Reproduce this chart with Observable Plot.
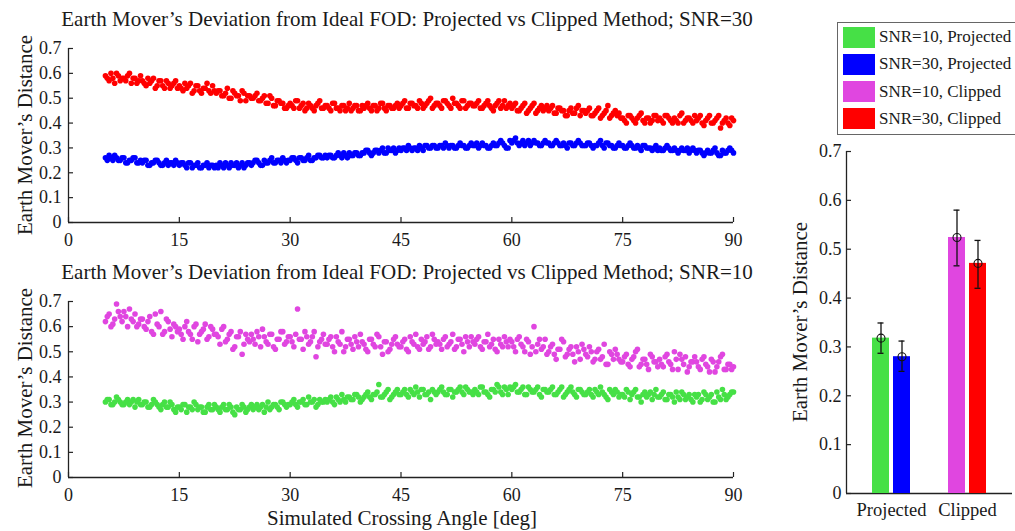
<!DOCTYPE html>
<html><head><meta charset="utf-8">
<script src="https://cdn.jsdelivr.net/npm/d3@7"></script>
<script src="https://cdn.jsdelivr.net/npm/@observablehq/plot@0.6"></script>
<style>
body{margin:0;background:#fff;overflow:hidden;}
#root{position:relative;width:1015px;height:531px;overflow:hidden;font-family:"Liberation Serif",serif;color:#1a1a1a;}
.ttl{position:absolute;white-space:nowrap;font-size:21px;line-height:1;transform:translate(-50%,-50%);}
.ylab{position:absolute;white-space:nowrap;font-size:21px;line-height:1;transform:translate(-50%,-50%) rotate(-90deg);}
#legend{position:absolute;left:837px;top:22px;width:200px;height:111px;border:1.5px solid #666;background:#fff;}
.lrow{position:absolute;left:5px;height:21px;display:flex;align-items:center;font-size:17px;white-space:nowrap;}
.sw{width:32px;height:21px;margin-right:4px;}
</style></head><body><div id="root"></div>
<script>
// ---------- data ----------
const angles  = d3.range(5, 90.25, 0.5);    // sampled crossing angles [deg], set A
const anglesB = d3.range(5.25, 90, 0.5);    // sampled crossing angles [deg], set B

const snr30Clipped = [
0.59,0.57,0.58,0.60,0.57,0.58,0.59,0.56,0.58,0.57,
0.57,0.55,0.56,0.58,0.55,0.57,0.54,0.56,0.55,0.57,
0.55,0.53,0.54,0.56,0.53,0.55,0.52,0.54,0.53,0.55,
0.52,0.53,0.51,0.54,0.50,0.52,0.51,0.53,0.49,0.51,
0.50,0.52,0.49,0.51,0.48,0.50,0.47,0.49,0.48,0.46,
0.48,0.46,0.49,0.47,0.45,0.48,0.46,0.47,0.49,0.46,
0.47,0.45,0.48,0.46,0.47,0.45,0.48,0.46,0.47,0.45,
0.46,0.48,0.45,0.47,0.46,0.48,0.45,0.47,0.46,0.48,
0.47,0.49,0.46,0.48,0.47,0.49,0.46,0.48,0.50,0.47,
0.48,0.46,0.49,0.47,0.50,0.48,0.46,0.49,0.47,0.48,
0.47,0.49,0.46,0.48,0.47,0.45,0.48,0.46,0.49,0.47,
0.46,0.48,0.45,0.47,0.44,0.46,0.48,0.45,0.47,0.46,
0.45,0.47,0.44,0.46,0.45,0.43,0.46,0.44,0.47,0.45,
0.44,0.46,0.43,0.45,0.42,0.44,0.47,0.43,0.45,0.44,
0.42,0.40,0.43,0.41,0.42,0.44,0.40,0.42,0.41,0.43,
0.42,0.40,0.43,0.41,0.42,0.40,0.44,0.41,0.42,0.40,
0.41,0.43,0.39,0.42,0.40,0.41,0.43,0.40,0.42,0.39,
0.41];
const snr30ClippedB = [
0.58,0.60,0.56,0.59,0.58,0.57,0.60,0.58,0.56,0.59,
0.56,0.58,0.57,0.54,0.57,0.55,0.57,0.54,0.56,0.54,
0.54,0.56,0.55,0.52,0.55,0.53,0.54,0.56,0.52,0.53,
0.53,0.51,0.52,0.50,0.53,0.51,0.49,0.52,0.51,0.50,
0.51,0.49,0.50,0.48,0.51,0.47,0.49,0.48,0.46,0.47,
0.47,0.49,0.46,0.48,0.46,0.47,0.45,0.48,0.46,0.47,
0.46,0.48,0.46,0.45,0.47,0.46,0.45,0.47,0.45,0.47,
0.47,0.46,0.47,0.45,0.48,0.46,0.47,0.46,0.47,0.46,
0.48,0.46,0.48,0.47,0.46,0.48,0.47,0.49,0.46,0.48,
0.47,0.49,0.48,0.46,0.48,0.47,0.49,0.46,0.48,0.47,
0.48,0.46,0.47,0.49,0.46,0.47,0.49,0.47,0.46,0.48,
0.47,0.45,0.46,0.48,0.45,0.47,0.44,0.46,0.45,0.47,
0.46,0.44,0.46,0.45,0.43,0.45,0.44,0.46,0.43,0.45,
0.45,0.43,0.44,0.46,0.43,0.45,0.42,0.44,0.43,0.42,
0.41,0.43,0.42,0.40,0.43,0.41,0.42,0.40,0.43,0.41,
0.41,0.43,0.42,0.40,0.41,0.43,0.40,0.42,0.41,0.43,
0.42,0.40,0.41,0.43,0.40,0.42,0.38,0.41,0.40,0.42];

const snr30Projected = [
0.26,0.27,0.25,0.26,0.25,0.26,0.24,0.25,0.26,0.24,
0.24,0.25,0.23,0.24,0.25,0.23,0.24,0.23,0.24,0.25,
0.23,0.24,0.22,0.24,0.23,0.24,0.22,0.23,0.22,0.23,
0.23,0.24,0.22,0.23,0.24,0.23,0.22,0.24,0.23,0.24,
0.24,0.25,0.23,0.25,0.24,0.26,0.24,0.25,0.26,0.24,
0.25,0.26,0.24,0.26,0.25,0.27,0.25,0.26,0.27,0.26,
0.26,0.27,0.26,0.28,0.26,0.27,0.28,0.27,0.28,0.27,
0.28,0.29,0.27,0.29,0.28,0.30,0.28,0.29,0.30,0.29,
0.29,0.30,0.31,0.29,0.30,0.31,0.29,0.31,0.30,0.31,
0.30,0.31,0.32,0.30,0.31,0.30,0.32,0.31,0.30,0.32,
0.31,0.30,0.32,0.31,0.30,0.32,0.31,0.33,0.31,0.30,
0.32,0.34,0.31,0.33,0.32,0.31,0.33,0.32,0.31,0.33,
0.32,0.31,0.33,0.31,0.32,0.30,0.32,0.31,0.33,0.31,
0.31,0.32,0.30,0.31,0.33,0.30,0.32,0.31,0.30,0.32,
0.31,0.30,0.32,0.30,0.31,0.29,0.31,0.30,0.29,0.31,
0.30,0.29,0.31,0.29,0.30,0.28,0.30,0.29,0.28,0.30,
0.28,0.29,0.27,0.29,0.28,0.30,0.27,0.29,0.28,0.30,
0.28];
const snr30ProjectedB = [
0.25,0.26,0.27,0.25,0.26,0.24,0.25,0.26,0.24,0.25,
0.25,0.23,0.24,0.25,0.24,0.23,0.25,0.24,0.23,0.24,
0.24,0.23,0.24,0.22,0.23,0.22,0.23,0.24,0.23,0.22,
0.22,0.23,0.24,0.22,0.23,0.24,0.23,0.22,0.24,0.23,
0.25,0.24,0.23,0.24,0.25,0.24,0.25,0.24,0.25,0.25,
0.26,0.25,0.26,0.25,0.26,0.25,0.26,0.27,0.26,0.27,
0.27,0.26,0.27,0.27,0.28,0.26,0.27,0.28,0.27,0.28,
0.29,0.28,0.28,0.29,0.29,0.28,0.30,0.29,0.28,0.30,
0.30,0.29,0.30,0.30,0.29,0.30,0.31,0.30,0.31,0.30,
0.31,0.30,0.31,0.31,0.30,0.31,0.31,0.30,0.31,0.31,
0.32,0.31,0.31,0.30,0.31,0.31,0.32,0.32,0.30,0.33,
0.33,0.32,0.32,0.31,0.33,0.32,0.32,0.31,0.32,0.32,
0.31,0.32,0.32,0.31,0.31,0.32,0.31,0.32,0.32,0.31,
0.32,0.31,0.31,0.32,0.31,0.32,0.31,0.30,0.31,0.31,
0.30,0.31,0.31,0.30,0.30,0.31,0.30,0.30,0.30,0.29,
0.29,0.30,0.30,0.29,0.29,0.29,0.29,0.30,0.29,0.29,
0.29,0.28,0.28,0.28,0.29,0.28,0.27,0.28,0.29,0.29];

const snr10Clipped = [
0.62,0.65,0.61,0.69,0.64,0.66,0.60,0.63,0.65,0.61,
0.63,0.59,0.64,0.57,0.61,0.66,0.58,0.62,0.56,0.60,
0.59,0.55,0.62,0.57,0.60,0.54,0.58,0.61,0.56,0.59,
0.57,0.53,0.60,0.55,0.58,0.52,0.56,0.49,0.57,0.54,
0.55,0.58,0.52,0.56,0.53,0.57,0.51,0.55,0.58,0.54,
0.56,0.52,0.67,0.55,0.58,0.53,0.56,0.48,0.54,0.57,
0.53,0.56,0.50,0.54,0.58,0.52,0.55,0.51,0.54,0.57,
0.53,0.50,0.55,0.52,0.56,0.49,0.54,0.51,0.55,0.53,
0.52,0.55,0.50,0.54,0.57,0.51,0.53,0.56,0.52,0.55,
0.54,0.51,0.56,0.53,0.57,0.52,0.55,0.50,0.54,0.56,
0.53,0.56,0.51,0.54,0.52,0.55,0.50,0.53,0.56,0.52,
0.54,0.50,0.56,0.52,0.55,0.49,0.60,0.53,0.51,0.55,
0.50,0.53,0.47,0.51,0.54,0.49,0.52,0.46,0.50,0.53,
0.49,0.52,0.46,0.50,0.47,0.53,0.45,0.49,0.51,0.47,
0.46,0.49,0.44,0.48,0.51,0.45,0.47,0.43,0.48,0.46,
0.47,0.44,0.49,0.45,0.50,0.43,0.47,0.48,0.44,0.46,
0.46,0.43,0.48,0.44,0.47,0.42,0.46,0.49,0.43,0.45,
0.44];
const snr10ClippedB = [
0.64,0.60,0.63,0.66,0.62,0.64,0.67,0.62,0.60,0.63,
0.60,0.62,0.58,0.65,0.60,0.57,0.63,0.59,0.61,0.58,
0.57,0.60,0.58,0.55,0.61,0.57,0.59,0.55,0.60,0.57,
0.56,0.59,0.54,0.57,0.51,0.56,0.58,0.53,0.55,0.57,
0.53,0.56,0.59,0.54,0.57,0.52,0.55,0.58,0.53,0.56,
0.54,0.57,0.55,0.51,0.56,0.54,0.58,0.52,0.55,0.53,
0.55,0.52,0.56,0.53,0.50,0.55,0.53,0.56,0.52,0.54,
0.51,0.55,0.53,0.57,0.52,0.54,0.50,0.53,0.56,0.52,
0.54,0.51,0.56,0.53,0.52,0.55,0.54,0.51,0.57,0.53,
0.53,0.55,0.52,0.54,0.51,0.55,0.53,0.56,0.52,0.54,
0.55,0.52,0.54,0.57,0.53,0.51,0.55,0.52,0.54,0.55,
0.52,0.55,0.53,0.50,0.54,0.52,0.50,0.55,0.52,0.49,
0.52,0.49,0.51,0.55,0.48,0.51,0.49,0.52,0.47,0.51,
0.48,0.50,0.47,0.51,0.48,0.45,0.50,0.47,0.49,0.46,
0.48,0.45,0.47,0.50,0.44,0.47,0.45,0.49,0.46,0.44,
0.45,0.48,0.46,0.43,0.47,0.49,0.45,0.42,0.46,0.48,
0.44,0.47,0.45,0.42,0.46,0.44,0.48,0.43,0.45,0.43];

const snr10Projected = [
0.30,0.31,0.29,0.32,0.30,0.29,0.31,0.30,0.28,0.31,
0.29,0.30,0.28,0.31,0.29,0.27,0.30,0.28,0.29,0.26,
0.28,0.29,0.26,0.28,0.30,0.27,0.28,0.26,0.29,0.27,
0.28,0.26,0.29,0.27,0.28,0.25,0.27,0.29,0.26,0.28,
0.27,0.29,0.28,0.26,0.30,0.28,0.29,0.27,0.30,0.28,
0.29,0.31,0.28,0.30,0.29,0.32,0.30,0.28,0.31,0.30,
0.30,0.32,0.29,0.31,0.33,0.30,0.32,0.31,0.33,0.30,
0.32,0.34,0.31,0.33,0.37,0.32,0.34,0.31,0.33,0.35,
0.33,0.35,0.32,0.34,0.36,0.32,0.35,0.33,0.31,0.34,
0.34,0.36,0.33,0.35,0.32,0.34,0.36,0.33,0.35,0.34,
0.35,0.33,0.36,0.34,0.32,0.35,0.37,0.34,0.36,0.33,
0.35,0.37,0.34,0.36,0.33,0.35,0.34,0.36,0.32,0.35,
0.34,0.36,0.33,0.35,0.32,0.34,0.36,0.33,0.35,0.34,
0.33,0.35,0.32,0.34,0.36,0.33,0.31,0.34,0.35,0.32,
0.33,0.35,0.31,0.34,0.32,0.30,0.34,0.33,0.31,0.35,
0.32,0.34,0.31,0.33,0.30,0.32,0.34,0.31,0.33,0.30,
0.32,0.30,0.34,0.31,0.33,0.30,0.32,0.35,0.31,0.33,
0.34];
const snr10ProjectedB = [
0.31,0.29,0.30,0.31,0.29,0.30,0.29,0.31,0.30,0.29,
0.30,0.28,0.29,0.30,0.28,0.29,0.28,0.30,0.27,0.28,
0.27,0.29,0.28,0.27,0.29,0.28,0.26,0.28,0.27,0.29,
0.27,0.28,0.27,0.29,0.26,0.28,0.27,0.28,0.27,0.29,
0.28,0.27,0.29,0.28,0.27,0.29,0.28,0.30,0.29,0.29,
0.30,0.29,0.30,0.31,0.29,0.30,0.31,0.29,0.30,0.31,
0.31,0.30,0.32,0.30,0.31,0.32,0.31,0.33,0.32,0.31,
0.33,0.32,0.33,0.34,0.32,0.33,0.35,0.32,0.34,0.33,
0.34,0.33,0.35,0.33,0.34,0.35,0.33,0.34,0.35,0.33,
0.35,0.34,0.33,0.35,0.34,0.35,0.34,0.36,0.34,0.33,
0.34,0.36,0.34,0.33,0.35,0.34,0.36,0.33,0.35,0.36,
0.36,0.34,0.35,0.33,0.36,0.34,0.35,0.33,0.35,0.34,
0.35,0.33,0.34,0.36,0.33,0.35,0.34,0.32,0.35,0.33,
0.34,0.33,0.35,0.33,0.34,0.32,0.35,0.33,0.34,0.33,
0.32,0.34,0.33,0.35,0.32,0.33,0.32,0.34,0.33,0.32,
0.33,0.31,0.33,0.32,0.34,0.31,0.33,0.32,0.31,0.33,
0.33,0.31,0.33,0.32,0.30,0.34,0.31,0.33,0.32,0.34];

const seriesNames  = ["SNR=10, Projected","SNR=30, Projected","SNR=10, Clipped","SNR=30, Clipped"];
const seriesColors = ["#46e046","#0000ff","#e046e0","#ff0000"];

const barGroups = ["Projected","Projected","Clipped","Clipped"];
const barSnr    = ["SNR=10","SNR=30","SNR=10","SNR=30"];
const barMeans  = [0.318, 0.280, 0.524, 0.471];
const barLow    = [0.287, 0.250, 0.466, 0.420];
const barHigh   = [0.349, 0.312, 0.580, 0.518];

const xTicks = [0,15,30,45,60,75,90];
const yTicks = [0,0.1,0.2,0.3,0.4,0.5,0.6,0.7];
const titleTop = "Earth Mover’s Deviation from Ideal FOD: Projected vs Clipped Method; SNR=30";
const titleBottom = "Earth Mover’s Deviation from Ideal FOD: Projected vs Clipped Method; SNR=10";
const yLabel = "Earth Mover’s Distance";
const xLabel = "Simulated Crossing Angle [deg]";

// ---------- helpers ----------
const root = document.getElementById("root");
const fmtY = d => d === 0 ? "0" : d3.format(".1f")(d);
const FONT = '"Liberation Serif", serif';
const AX = "#222";

function place(node, left, top) {
  node.style.position = "absolute";
  node.style.left = left + "px";
  node.style.top = top + "px";
  root.appendChild(node);
}
function textDiv(cls, txt, x, y) {
  const d = document.createElement("div");
  d.className = cls; d.textContent = txt;
  d.style.left = x + "px"; d.style.top = y + "px";
  root.appendChild(d);
}
function rows(xs, values, name) {
  return xs.map((a, i) => ({angle: a, v: values[i], series: name}));
}

function scatterPlot(data, mt, mb) {
  const W = 760, H = 260, ml = 68, mr = 27;
  const iw = W - ml - mr, ih = H - mt - mb;
  return Plot.plot({
    width: W, height: H, marginLeft: ml, marginRight: mr, marginTop: mt, marginBottom: mb,
    style: {fontFamily: FONT, fontSize: "18px", color: "#1a1a1a", background: "transparent", overflow: "visible"},
    x: {domain: [0, 90], ticks: xTicks, tickFormat: d => String(d), tickSize: 0, tickPadding: 11, label: null},
    y: {domain: [0, 0.7], ticks: yTicks, tickFormat: fmtY, tickSize: 0, tickPadding: 7, label: null},
    color: {domain: seriesNames, range: seriesColors},
    marks: [
      Plot.dot(data, {x: "angle", y: "v", fill: "series", r: 2.8}),
      Plot.ruleX([0], {stroke: AX, strokeWidth: 1.3}),
      Plot.ruleY([0], {stroke: AX, strokeWidth: 1.3}),
      Plot.tickX(xTicks, {x: d => d, insetTop: ih - 5, stroke: AX, strokeWidth: 1.2}),
      Plot.tickY(yTicks, {y: d => d, insetRight: iw - 5, stroke: AX, strokeWidth: 1.2})
    ]
  });
}

// ---------- scatter plots ----------
const topData = [
  ...rows(angles, snr30Clipped, "SNR=30, Clipped"), ...rows(anglesB, snr30ClippedB, "SNR=30, Clipped"),
  ...rows(angles, snr30Projected, "SNR=30, Projected"), ...rows(anglesB, snr30ProjectedB, "SNR=30, Projected")
];
const botData = [
  ...rows(angles, snr10Clipped, "SNR=10, Clipped"), ...rows(anglesB, snr10ClippedB, "SNR=10, Clipped"),
  ...rows(angles, snr10Projected, "SNR=10, Projected"), ...rows(anglesB, snr10ProjectedB, "SNR=10, Projected")
];
place(scatterPlot(topData, 48, 38), 0, 0);
place(scatterPlot(botData, 51, 33), 0, 250);

textDiv("ttl", titleTop, 407, 19);
textDiv("ttl", titleBottom, 407, 272);
textDiv("ylab", yLabel, 25, 135);
textDiv("ylab", yLabel, 25, 388);
textDiv("ttl", xLabel, 402, 518);

// ---------- bar chart ----------
const BW = 255, BH = 401, bml = 86, bmr = 3, bmt = 21, bmb = 38;
const bars = barMeans.map((m, i) => ({group: barGroups[i], snr: barSnr[i], mean: m, lo: barLow[i], hi: barHigh[i], series: barSnr[i] + ", " + barGroups[i]}));

place(Plot.plot({
  width: BW, height: BH, marginLeft: bml, marginRight: bmr, marginTop: bmt, marginBottom: bmb,
  style: {fontFamily: FONT, fontSize: "18px", color: "#1a1a1a", background: "transparent", overflow: "visible"},
  x: {domain: [0, 1], axis: null},
  y: {domain: [0, 0.7], ticks: yTicks, tickFormat: fmtY, tickSize: 0, tickPadding: 5, label: null},
  marks: [
    Plot.ruleX([0], {stroke: AX, strokeWidth: 1.3}),
    Plot.ruleY([0], {stroke: AX, strokeWidth: 1.3}),
    Plot.tickY(yTicks, {y: d => d, insetRight: BW - bml - bmr - 5, stroke: AX, strokeWidth: 1.2})
  ]
}), 760, 130);

place(Plot.plot({
  width: BW, height: BH, marginLeft: bml, marginRight: bmr, marginTop: bmt, marginBottom: bmb,
  style: {fontFamily: FONT, fontSize: "18.5px", color: "#1a1a1a", background: "transparent", overflow: "visible"},
  fx: {domain: ["Projected", "Clipped"], paddingInner: 0.474, paddingOuter: 0.329, axis: "bottom", tickSize: 0, tickPadding: 9, label: null},
  x: {domain: ["SNR=10", "SNR=30"], paddingInner: 0.186, paddingOuter: 0.023, axis: null},
  y: {domain: [0, 0.7], axis: null},
  color: {domain: seriesNames, range: seriesColors},
  marks: [
    Plot.barY(bars, {fx: "group", x: "snr", y: "mean", fill: "series"}),
    Plot.ruleX(bars, {fx: "group", x: "snr", y1: "lo", y2: "hi", stroke: "#111", strokeWidth: 1.3}),
    Plot.tickY(bars, {fx: "group", x: "snr", y: "lo", insetLeft: 5.5, insetRight: 5.5, stroke: "#111", strokeWidth: 1.3}),
    Plot.tickY(bars, {fx: "group", x: "snr", y: "hi", insetLeft: 5.5, insetRight: 5.5, stroke: "#111", strokeWidth: 1.3}),
    Plot.dot(bars, {fx: "group", x: "snr", y: "mean", r: 4, stroke: "#111", strokeWidth: 1.1, fill: "none"})
  ]
}), 760, 130);

textDiv("ylab", yLabel, 800, 322);

// ---------- legend ----------
const leg = document.createElement("div");
leg.id = "legend";
seriesNames.forEach((name, i) => {
  const r = document.createElement("div");
  r.className = "lrow";
  r.style.top = (3.5 + i * 27.3) + "px";
  const sw = document.createElement("div");
  sw.className = "sw";
  sw.style.background = seriesColors[i];
  const t = document.createElement("span");
  t.textContent = name;
  r.appendChild(sw); r.appendChild(t);
  leg.appendChild(r);
});
root.appendChild(leg);
</script></body></html>
